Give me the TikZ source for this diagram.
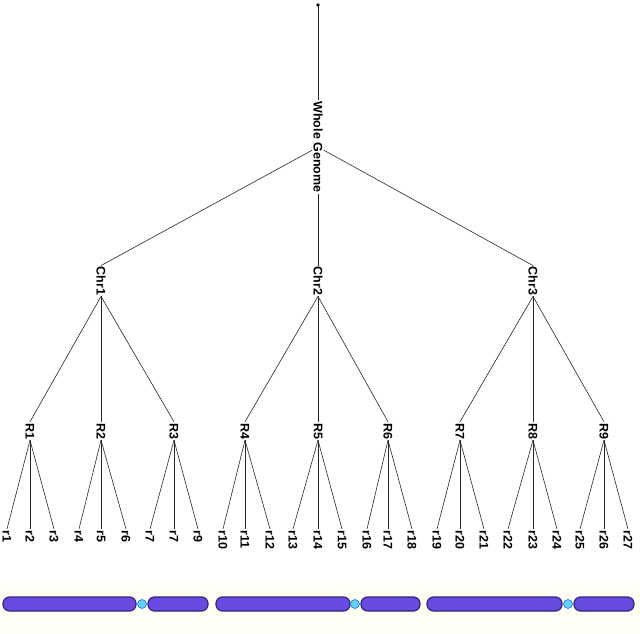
\documentclass[tikz,border=0pt]{standalone}
\usepackage{fontspec}
\setmainfont{Liberation Sans}
\definecolor{chromfill}{RGB}{105,75,225}
\definecolor{chromdraw}{RGB}{55,35,120}
\begin{document}
\begin{tikzpicture}[x=1pt,y=-1pt,
  lbl/.style={rotate=-90,inner sep=1pt,font=\bfseries\fontsize{12.5}{13}\selectfont},
  edge/.style={draw=black!85,line width=0.6pt},
  chrom/.style={draw=chromdraw,fill=chromfill,line width=1.2pt,rounded corners=6.5pt},
  centro/.style={draw=cyan!60!blue,fill=cyan!60!white,line width=0.6pt,circle,minimum size=9pt,inner sep=0pt}]
\useasboundingbox (0,0) rectangle (640,634);
\fill[yellow!4] (0,585) rectangle (640,634);
\coordinate (top) at (318,5);
\fill (top) circle (1.8pt);
\node[lbl] (wg) at (318,147) {Whole Genome};
\draw[edge] (top) -- (wg.west);
\node[lbl] (c1) at (101,281) {Chr1};
\node[lbl] (c2) at (318,281) {Chr2};
\node[lbl] (c3) at (533,281) {Chr3};
\draw[edge] (wg) -- (c1.west);
\draw[edge] (wg.east) -- (c2.west);
\draw[edge] (wg) -- (c3.west);
\foreach \i/\x/\p in {1/30/c1,2/101/c1,3/174/c1,4/245/c2,5/318/c2,6/388/c2,7/460/c3,8/533/c3,9/604/c3}{
  \node[lbl] (R\i) at (\x,431) {R\i};
  \draw[edge] (\p.east) -- (R\i.west);
}
\foreach \i/\x/\p/\t in {1/7/1/r1,2/30/1/r2,3/54/1/r3,4/79/2/r4,5/101/2/r5,6/126/2/r6,7/150/3/r7,8/174/3/r7,9/198/3/r9,
 10/223/4/r10,11/245/4/r11,12/270/4/r12,13/293/5/r13,14/318/5/r14,15/342/5/r15,16/367/6/r16,17/388/6/r17,18/412/6/r18,
 19/437/7/r19,20/460/7/r20,21/484/7/r21,22/508/8/r22,23/533/8/r23,24/557/8/r24,25/580/9/r25,26/604/9/r26,27/628/9/r27}{
  \node[lbl,anchor=west] (r\i) at (\x,529) {\t};
  \draw[edge] (R\p.east) -- (r\i.west);
}
\foreach \a/\b/\c/\d/\e in {3/136/142/148/208, 216/350/355/361/420, 427/562/568/574/634}{
  \draw[chrom] (\a,597) rectangle (\b,611);
  \draw[chrom] (\d,597) rectangle (\e,611);
  \node[centro] at (\c,604) {};
}
\end{tikzpicture}
\end{document}
